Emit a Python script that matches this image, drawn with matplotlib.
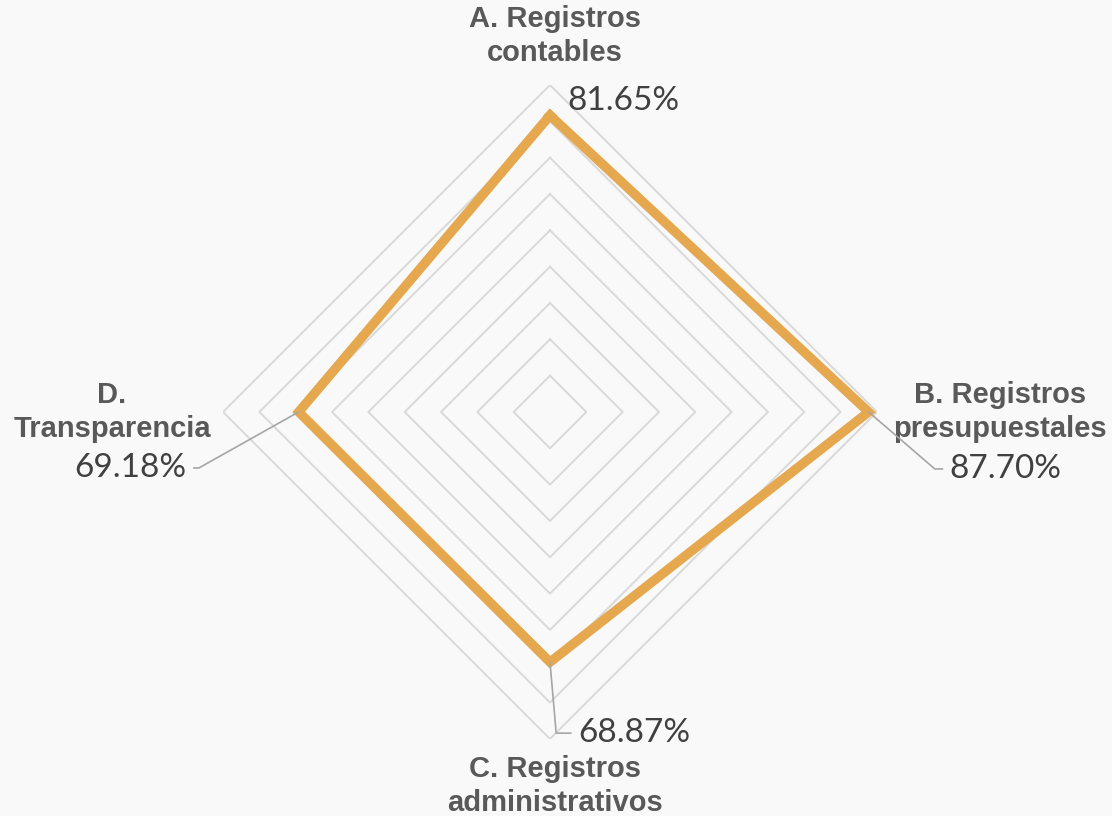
#!/usr/bin/env python3
"""
Radar chart: avance por componente (registros y transparencia).
"""

import numpy as np
import matplotlib.pyplot as plt

categories = ["A. Registros\ncontables", "B. Registros\npresupuestales",
              "C. Registros\nadministrativos", "D.\nTransparencia"]
values = [0.8165, 0.8770, 0.6887, 0.6918]
value_labels = ["81.65%", "87.70%", "68.87%", "69.18%"]
grid_levels = [0.1, 0.2, 0.3, 0.4, 0.5, 0.6, 0.7, 0.8, 0.9]

bg = "#f9f9f9"
line_color = "#e6a84e"
grid_color = "#d9d9d9"
cat_color = "#595959"
val_color = "#404040"

fig = plt.figure(figsize=(11.12, 8.16), dpi=100, facecolor=bg)
ax = fig.add_axes([0.4946 - 0.294, 0.4951 - 0.4007, 0.588, 0.8015], projection="polar")
ax.set_facecolor(bg)
ax.set_theta_zero_location("N")
ax.set_theta_direction(-1)
ax.set_ylim(0, 0.9)
ax.grid(False)
ax.spines["polar"].set_visible(False)
ax.set_xticks([])
ax.set_yticks([])

theta = np.arange(len(categories)) * 2 * np.pi / len(categories)
theta_closed = np.append(theta, theta[0])

# diamond grid rings
for lvl in grid_levels:
    ax.plot(theta_closed, [lvl] * len(theta_closed), color=grid_color, lw=1.4, zorder=1)

# data series
vals_closed = values + values[:1]
ax.plot(theta_closed, vals_closed, color=line_color, lw=6.8, solid_joinstyle="miter", zorder=3)

# value labels (offset pixels from the data point) with leader lines
val_offsets = [(17, 14), (81, -57), (28, -71), (-112, -56)]
val_align = ["left", "left", "left", "right"]
leader_angle = [None, -40.7, -85, 29.3]
for t, v, lab, off, ha, ang in zip(theta, values, value_labels, val_offsets, val_align, leader_angle):
    props = None
    if ang is not None:
        props = dict(arrowstyle="-", color="#a6a6a6", lw=1.2, shrinkA=3, shrinkB=0,
                     relpos=(0 if ha == "left" else 1, 0.5),
                     connectionstyle=f"angle,angleA=0,angleB={ang},rad=0")
    ax.annotate(lab, xy=(t, v), xytext=off, textcoords="offset pixels",
                ha=ha, va="center", fontsize=24, color=val_color,
                family="Lato", arrowprops=props, annotation_clip=False, zorder=4)

# category labels, offset from the outer ring
cat_offsets = [(5, 49), (123, 0), (5, -47), (-111, 0)]
for t, lab, off in zip(theta, categories, cat_offsets):
    ax.annotate(lab, xy=(t, grid_levels[-1]), xytext=off, textcoords="offset pixels",
                ha="center", va="center", fontsize=21, fontweight="bold",
                color=cat_color, family="Liberation Sans", linespacing=1.25,
                annotation_clip=False)

plt.savefig("out.png", dpi=100, facecolor=bg)
